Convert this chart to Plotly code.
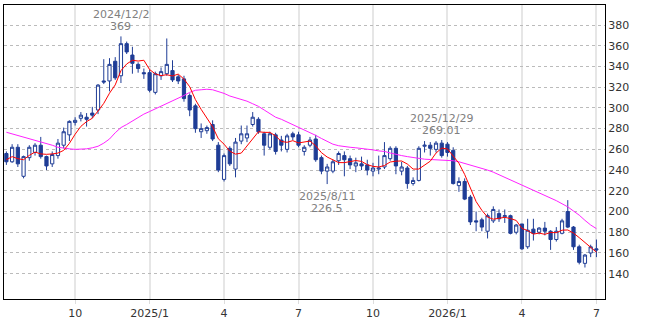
import pandas as pd
import plotly.graph_objects as go

# ---- data (weekly candles, Monday dates) ----
start_date = "2024-07-15"
n_weeks = 104

opens = [256, 248, 262, 234, 252, 257, 264, 253, 246, 254, 264, 274, 286, 290, 291, 295, 298, 326, 326, 345,
         331, 362, 351, 342, 334, 334, 315, 331, 333, 336, 330, 328, 312, 302, 277, 278, 284, 264, 231, 261,
         241, 268, 271, 284, 289, 275, 262, 274, 269, 260, 275, 274, 258, 264, 270, 252, 239, 239, 249, 254,
         251, 244, 246, 245, 239, 241, 243, 251, 261, 239, 242, 227, 230, 263, 264, 260, 266, 265, 259, 225,
         229, 214, 191, 192, 181, 191, 198, 195, 196, 180, 188, 166, 183, 180, 184, 181, 173, 179, 200, 185,
         166, 150, 160, 164]
highs = [258, 265, 265, 254, 264, 266, 272, 254, 258, 270, 281, 288, 291, 296, 295, 301, 323, 347, 348, 349,
         369, 364, 359, 344, 338, 337, 335, 339, 367, 346, 332, 331, 314, 304, 285, 283, 288, 267, 256, 263,
         271, 283, 283, 296, 291, 277, 277, 276, 273, 275, 277, 277, 264, 272, 274, 254, 246, 250, 258, 258,
         254, 252, 253, 250, 247, 254, 267, 263, 263, 248, 244, 233, 263, 268, 267, 268, 269.01, 267, 262, 233,
         232, 216, 200, 194, 198, 205, 202, 202, 197, 188, 188, 193, 193, 185, 190, 182, 185, 193, 211, 186,
         168, 159, 168, 173]
lows = [245, 247, 243, 232, 249, 254, 251, 240, 243, 251, 261, 268, 283, 287, 282, 290, 294, 323, 316, 327,
        324, 352, 333, 334, 328, 315, 313, 327, 331, 325, 323, 306, 292, 276, 271, 275, 268, 238, 229, 244,
        233, 265, 267, 282, 275, 254, 260, 255, 258, 257, 269, 262, 254, 262, 248, 236, 226.5, 237, 245, 234,
        241, 238, 240, 235, 234, 236, 241, 249, 236, 235, 222, 225, 229, 257, 254, 257, 252, 253, 226, 219,
        211, 187, 181, 181, 174, 189, 190, 189, 178, 178, 163, 164, 172, 178, 177, 163, 171, 178, 184, 163,
        149, 146, 156, 156]
closes = [248, 262, 246, 253, 262, 264, 253, 244, 255, 266, 277, 287, 288, 293, 289, 293, 322, 325, 342, 329,
          362, 354, 343, 338, 333, 317, 333, 335, 342, 327, 326, 309, 298, 280, 280, 281, 270, 240, 254, 246,
          267, 275, 275, 291, 277, 264, 275, 258, 264, 273, 272, 264, 262, 269, 250, 239, 243, 248, 256, 250,
          245, 247, 244, 240, 242, 242, 254, 261, 244, 243, 227, 230, 261, 264, 261, 266, 254, 257, 227, 229,
          212, 190, 190, 185, 196, 202, 193, 196, 179, 187, 164, 182, 179, 184, 181, 173, 181, 191, 185, 166,
          151, 158, 166, 163]

# first four values of the short (5-week) average
ma_short_head = [250, 253, 251, 250]
# long (26-week) average
ma_long = [276.5, 275, 273.5, 272, 270.5, 269, 267, 265.5, 264, 262, 261, 260.5, 260, 260, 260.5, 261.5, 263,
           266, 270, 276, 281, 284, 287.5, 290.5, 294, 296.5, 299, 301.5, 304, 306.5, 309, 312, 315, 317,
           317.5, 318, 317.5, 316, 314, 311.5, 310, 308.5, 306.5, 304, 301.5, 298, 294.5, 291, 289, 286.5,
           284, 281.5, 278.5, 276, 273.5, 270.5, 267.5, 265, 263.5, 262.5, 262, 261.5, 261, 260, 259.5, 258.5,
           258, 256.5, 255, 254, 253, 252, 251, 250.5, 250.2, 250, 249.8, 249.6, 249, 248, 246.5, 245, 243,
           241.5, 240, 238, 235.5, 233.5, 231, 228.5, 226, 223.5, 221, 218.5, 215.5, 213, 210.5, 207.5, 204.5,
           200.5, 196.5, 191.5, 187, 183.5]

tick_dates = ["2024-10-07", "2025-01-06", "2025-04-07", "2025-07-07", "2025-10-06", "2026-01-05",
              "2026-04-06", "2026-07-06"]
tick_labels = ["10", "2025/1", "4", "7", "10", "2026/1", "4", "7"]
year_ticks = ["2025-01-06", "2026-01-05"]
y_ticks = [140, 160, 180, 200, 220, 240, 260, 280, 300, 320, 340, 360, 380]

marks = [("2024-12-02", "2024/12/2", "369", "high"),
         ("2025-08-11", "2025/8/11", "226.5", "low"),
         ("2025-12-29", "2025/12/29", "269.01", "high")]

# ---- build ----
dates = pd.date_range(start_date, periods=n_weeks, freq="7D")
df = pd.DataFrame({"open": opens, "high": highs, "low": lows, "close": closes}, index=dates)
ma_short = df["close"].rolling(5).mean()
ma_short.iloc[:4] = ma_short_head

NAVY = "#1f3d96"
fig = go.Figure()
fig.add_trace(go.Candlestick(
    x=dates, open=df["open"], high=df["high"], low=df["low"], close=df["close"],
    increasing=dict(fillcolor="white", line=dict(color=NAVY, width=1)),
    decreasing=dict(fillcolor=NAVY, line=dict(color=NAVY, width=1)),
    whiskerwidth=0, showlegend=False, hoverinfo="skip"))
fig.add_trace(go.Scatter(x=dates, y=ma_long, mode="lines",
                         line=dict(color="#ff22ff", width=1), showlegend=False, hoverinfo="skip"))
fig.add_trace(go.Scatter(x=dates, y=ma_short, mode="lines",
                         line=dict(color="#ff0000", width=1), showlegend=False, hoverinfo="skip"))

for yd in year_ticks:
    fig.add_shape(type="line", xref="x", yref="paper", x0=yd, x1=yd, y0=0, y1=1,
                  line=dict(color="#b4b4b4", width=1), layer="below")

FONT = "DejaVu Sans"
for d, lab, val, kind in marks:
    yv = df.loc[d, "high"] if kind == "high" else df.loc[d, "low"]
    if kind == "high":
        fig.add_annotation(x=d, y=yv, text=val, showarrow=False, yanchor="bottom", yshift=1,
                           font=dict(family=FONT, size=11, color="#808080"))
        fig.add_annotation(x=d, y=yv, text=lab, showarrow=False, yanchor="bottom", yshift=13,
                           font=dict(family=FONT, size=11, color="#808080"))
    else:
        fig.add_annotation(x=d, y=yv, text=lab, showarrow=False, yanchor="top", yshift=-4,
                           font=dict(family=FONT, size=11, color="#808080"))
        fig.add_annotation(x=d, y=yv, text=val, showarrow=False, yanchor="top", yshift=-16,
                           font=dict(family=FONT, size=11, color="#808080"))

fig.update_layout(
    width=650, height=325, margin=dict(l=4, r=45, t=5, b=26),
    paper_bgcolor="white", plot_bgcolor="white", boxgap=0.2,
    font=dict(family=FONT, size=11, color="#333333"),
    xaxis=dict(type="date", range=["2024-07-12 02:00", "2026-07-16 12:00"],
               tickvals=tick_dates, ticktext=tick_labels,
               showgrid=True, gridcolor="#e6e6e6", gridwidth=2,
               showline=True, linecolor="black", linewidth=1, mirror=True,
               ticks="outside", ticklen=4, tickcolor="#dddddd",
               rangeslider=dict(visible=False), zeroline=False,
               tickfont=dict(family=FONT, size=11, color="#333333")),
    yaxis=dict(side="right", range=[115.6, 399.3], tickvals=y_ticks,
               showgrid=True, gridcolor="#bbbbbb", griddash="dot", gridwidth=1,
               showline=True, linecolor="black", linewidth=1, mirror=True,
               ticks="", zeroline=False,
               tickfont=dict(family=FONT, size=11, color="#333333")),
)

fig.write_html("out.html")
